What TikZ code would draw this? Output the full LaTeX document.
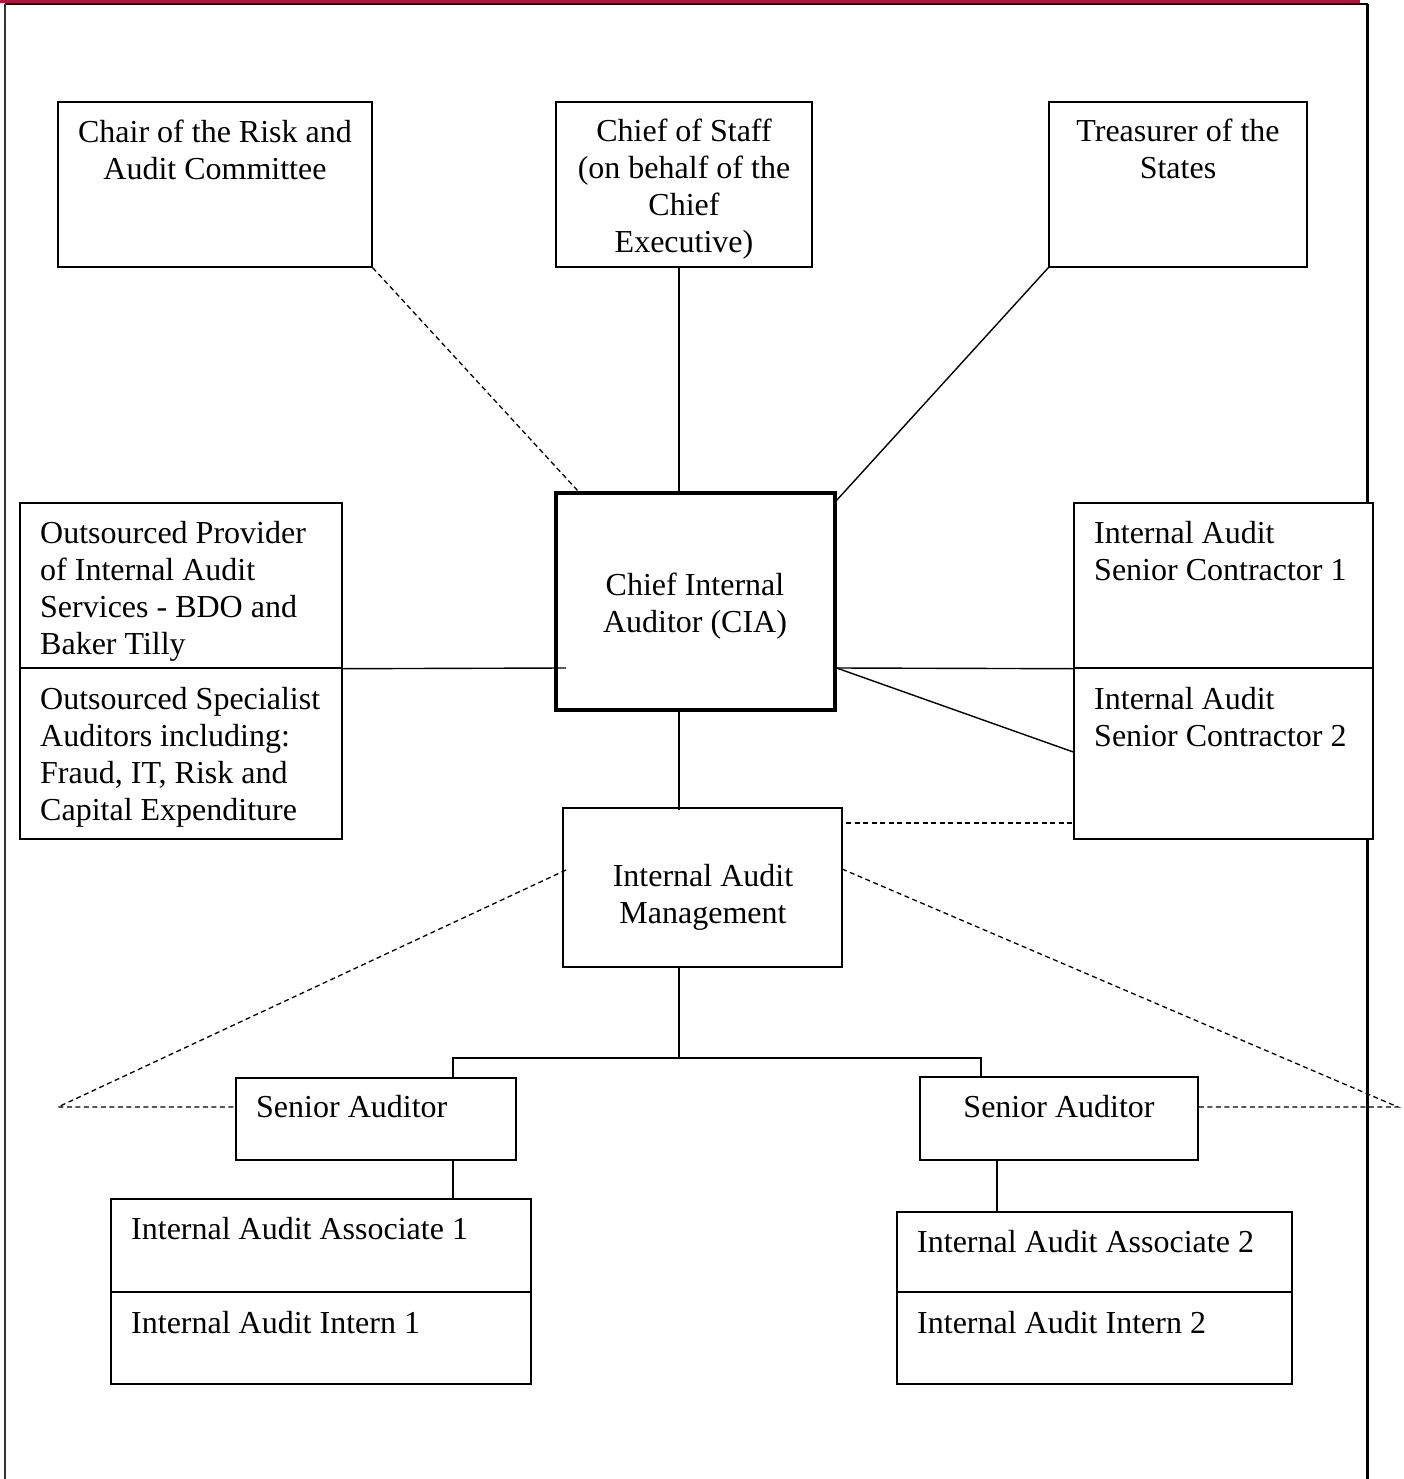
\documentclass[tikz,border=0pt]{standalone}
\usepackage{fontspec}
\setmainfont{Liberation Serif}
\definecolor{bandred}{HTML}{A8193B}
\newcommand{\mytc}[1]{\begin{tabular}[t]{@{}c@{}}#1\end{tabular}}
\newcommand{\mytl}[1]{\begin{tabular}[t]{@{}l@{}}#1\end{tabular}}
\tikzset{
  boxst/.style={draw=black, line width=1.4pt, fill=white, inner sep=0pt, rectangle},
  bigbox/.style={draw=black, line width=3.2pt, fill=white, inner sep=0pt, rectangle},
  txt/.style={inner sep=0pt, font=\fontsize{32}{37}\selectfont},
  conn/.style={line width=1.4pt},
  dconn/.style={line width=1.3pt, dash pattern=on 5pt off 3.5pt},
}
\newcommand{\boxat}[6][boxst]{%
  \node[#1, minimum width={#5-#3}, minimum height={#6-#4}] (#2) at ({(#3+#5)/2},{(#4+#6)/2}) {};}
\begin{document}
\begin{tikzpicture}[x=1pt,y=-1pt]
\useasboundingbox (0,0) rectangle (1404,1479);
% frame
\fill[bandred] (0,0) rectangle (1360,3.2);
\coordinate (ftl) at (5,4);
\coordinate (ftr) at (1367.5,4);
\coordinate (fbl) at (5,1479);
\coordinate (fbr) at (1367.5,1479);
\draw[line width=2pt] (ftl) -- (ftr);
\draw[line width=2pt, black!80] (ftl) -- (fbl);
\draw[line width=3pt] (ftr) -- (fbr);
% dashed fan ends
\coordinate (lfan) at (58,1107);
\coordinate (rfan) at (1398,1107);
% boxes
\boxat{chair}{58}{102}{372}{267}
\boxat{staff}{556}{102}{812}{267}
\boxat{treas}{1049}{102}{1307}{267}
\boxat{prov}{20}{503}{342}{668}
\boxat{spec}{20}{668}{342}{839}
\boxat{con1}{1074}{503}{1373}{668}
\boxat{con2}{1074}{668}{1373}{839}
\boxat{mgmt}{563}{808}{842}{967}
\boxat{sal}{236}{1078}{516}{1160}
\boxat{sar}{920}{1077}{1198}{1160}
\boxat{as1}{111}{1199}{531}{1292}
\boxat{in1}{111}{1292}{531}{1384}
\boxat{as2}{897}{1212}{1292}{1292}
\boxat{in2}{897}{1292}{1292}{1384}
\boxat[bigbox]{cia}{556}{493}{835}{710}
% texts
\node[txt, anchor=base] (chairT) at (215,143) {\mytc{Chair of the Risk and\\Audit Committee}};
\node[txt, anchor=base] (staffT) at (684,142) {\mytc{Chief of Staff\\(on behalf of the\\Chief\\Executive)}};
\node[txt, anchor=base] (treasT) at (1178,142) {\mytc{Treasurer of the\\States}};
\node[txt, anchor=base] (ciaT) at (695,595) {\mytc{Chief Internal\\Auditor (CIA)}};
\node[txt, anchor=base west] (provT) at (40,543) {\mytl{Outsourced Provider\\of Internal Audit\\Services - BDO and\\Baker Tilly}};
\node[txt, anchor=base west] (specT) at (40,709) {\mytl{Outsourced Specialist\\Auditors including:\\Fraud, IT, Risk and\\Capital Expenditure}};
\node[txt, anchor=base west] (con1T) at (1094,543) {\mytl{Internal Audit\\Senior Contractor 1}};
\node[txt, anchor=base west] (con2T) at (1094,709) {\mytl{Internal Audit\\Senior Contractor 2}};
\node[txt, anchor=base] (mgmtT) at (703,886) {\mytc{Internal Audit\\Management}};
\node[txt, anchor=base west] (salT) at (256,1117) {Senior Auditor};
\node[txt, anchor=base] (sarT) at (1059,1117) {Senior Auditor};
\node[txt, anchor=base west] (as1T) at (131,1239) {Internal Audit Associate 1};
\node[txt, anchor=base west] (in1T) at (131,1333) {Internal Audit Intern 1};
\node[txt, anchor=base west] (as2T) at (917,1252) {Internal Audit Associate 2};
\node[txt, anchor=base west] (in2T) at (917,1333) {Internal Audit Intern 2};
% connectors
\coordinate (chairEnd) at (578,491);
\draw[dconn] (chair.south east) -- (chairEnd);
\draw[conn] (staff.south -| 679,0) -- (cia.north -| 679,0);
\coordinate (treasEnd) at (836,501);
\draw[conn] (treas.south west) -- (treasEnd);
\coordinate (provEnd) at (566,668);
\draw[conn] (prov.south east) -- (provEnd);
\draw[conn] (cia.east |- 0,668) -- (con1.south west);
\draw[conn] (cia.east |- 0,668) -- (con2.west |- 0,752);
\coordinate (mgmtTop) at (679,810);
\draw[conn] (cia.south -| 679,0) -- (mgmtTop);
\coordinate (mgmtDash) at (846,823);
\draw[dconn] (mgmtDash) -- (con2.west |- 0,823);
\coordinate (mgmtL) at (566,870);
\coordinate (mgmtR) at (842,869);
\draw[dconn] (mgmtL) -- (lfan) -- (sal.west |- 0,1107);
\draw[dconn] (mgmtR) -- (rfan) -- (sar.east |- 0,1107);
\coordinate (split) at (679,1058);
\draw[conn] (mgmt.south -| 679,0) -- (split);
\draw[conn] (sal.north -| 453,0) -- (453,1058) -- (981,1058) -- (sar.north -| 981,0);
\draw[conn] (sal.south -| 453,0) -- (as1.north -| 453,0);
\draw[conn] (sar.south -| 997,0) -- (as2.north -| 997,0);
\end{tikzpicture}
\end{document}
